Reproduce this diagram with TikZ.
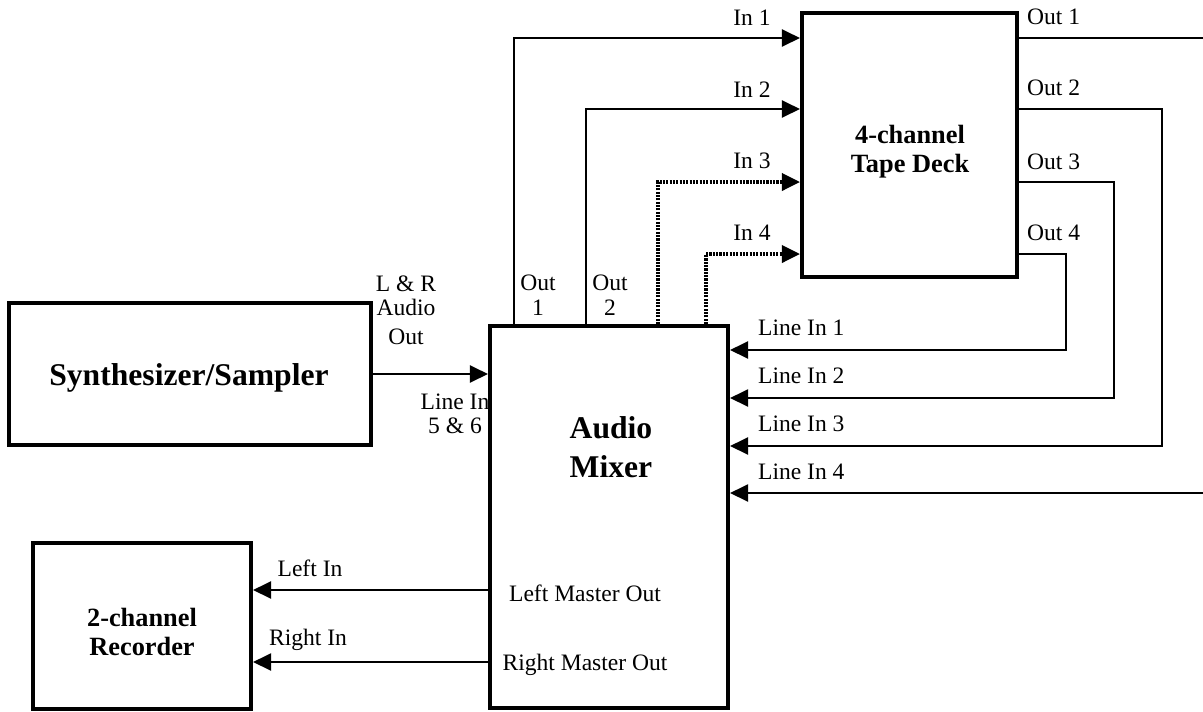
\documentclass[tikz,border=0pt]{standalone}
\usepackage{fontspec}
\setmainfont{Liberation Serif}
\usepackage{tikz}
\usetikzlibrary{arrows.meta}

\begin{document}
\begin{tikzpicture}[
    unit/.style={draw, line width=2.3pt, fill=white, inner sep=0pt},
    title/.style={align=center, font=\fontsize{15}{16.5}\selectfont\bfseries},
    wire/.style={line width=1.15pt},
    feed/.style={wire, -{Triangle[length=0.36cm, width=0.34cm]}},
    dotwire/.style={feed, line width=2pt, dash pattern=on 1.2pt off 0.7pt},
    tag/.style={font=\fontsize{13.4}{14}\selectfont, align=center, inner sep=1pt}
  ]
        \useasboundingbox (0,0) rectangle (24.06,-14.22);
        % units
        \node[unit, minimum width=7.24cm, minimum height=2.84cm] (synth) at (3.8,-7.48) {};
        \node[title, font=\fontsize{18}{20}\selectfont\bfseries] (synthtitle) at (3.78,-7.56) {Synthesizer/Sampler};
        \node[tag] (linein56) at (9.1,-8.28) {Line In\\5 \& 6};
        \node[unit, minimum width=4.76cm, minimum height=7.64cm] (mixer) at (12.18,-10.34) {};
        \node[unit, minimum width=4.3cm, minimum height=5.28cm] (tape) at (18.19,-2.9) {};
        \node[unit, minimum width=4.36cm, minimum height=3.32cm] (recorder) at (2.84,-12.52) {};
        \node[title, font=\fontsize{18}{22}\selectfont\bfseries] (mixertitle) at (12.22,-8.94) {Audio\\Mixer};
        \node[title] (tapetitle) at (18.2,-3.04) {4-channel\\Tape Deck};
        \node[title] (recordertitle) at (2.84,-12.64) {2-channel\\Recorder};

        % synth into mixer
        \draw[feed] (synth.east) -- (synth.east -| mixer.west);
        \node[tag] (synthout) at (8.12,-6.2) {L \& R\\Audio\\[2pt]Out};

        % mixer sends to tape deck
        \draw[feed] (mixer.north -| 10.28,0) |- (tape.west |- 0,-0.76);
        \draw[feed] (mixer.north -| 11.72,0) |- (tape.west |- 0,-2.18);
        \draw[dotwire] (mixer.north -| 13.16,0) |- (tape.west |- 0,-3.64);
        \draw[dotwire] (mixer.north -| 14.12,0) |- (tape.west |- 0,-5.08);
        \node[tag] (mixout1) at (10.76,-5.9) {Out\\1};
        \node[tag] (mixout2) at (12.2,-5.9) {Out\\2};
        \node[tag] (tapein1) at (15.04,-0.36) {In 1};
        \node[tag] (tapein2) at (15.04,-1.8) {In 2};
        \node[tag] (tapein3) at (15.04,-3.22) {In 3};
        \node[tag] (tapein4) at (15.04,-4.66) {In 4};

        % tape deck returns
        \coordinate (edge1) at (24.06,-0.76);
        \coordinate (edge4) at (24.06,-9.86);
        \draw[wire] (tape.east |- edge1) -- (edge1);
        \draw[feed] (tape.east |- 0,-2.18) -| (23.24,-8.92) -- (mixer.east |- 0,-8.92);
        \draw[feed] (tape.east |- 0,-3.64) -| (22.28,-7.96) -- (mixer.east |- 0,-7.96);
        \draw[feed] (tape.east |- 0,-5.08) -| (21.32,-7.0) -- (mixer.east |- 0,-7.0);
        \draw[feed] (edge4) -- (mixer.east |- edge4);
        \node[tag, anchor=west] (tapeout1) at (20.5,-0.34) {Out 1};
        \node[tag, anchor=west] (tapeout2) at (20.5,-1.76) {Out 2};
        \node[tag, anchor=west] (tapeout3) at (20.5,-3.24) {Out 3};
        \node[tag, anchor=west] (tapeout4) at (20.5,-4.66) {Out 4};
        \node[tag, anchor=west] (linein1) at (15.12,-6.56) {Line In 1};
        \node[tag, anchor=west] (linein2) at (15.12,-7.52) {Line In 2};
        \node[tag, anchor=west] (linein3) at (15.12,-8.48) {Line In 3};
        \node[tag, anchor=west] (linein4) at (15.12,-9.44) {Line In 4};

        % master outs to recorder
        \draw[feed] (mixer.west |- 0,-11.8) -- (recorder.east |- 0,-11.8);
        \draw[feed] (mixer.west |- 0,-13.24) -- (recorder.east |- 0,-13.24);
        \node[tag] (leftin) at (6.2,-11.36) {Left In};
        \node[tag] (rightin) at (6.16,-12.8) {Right In};
        \node[tag] (leftout) at (11.7,-11.86) {Left Master Out};
        \node[tag] (rightout) at (11.7,-13.3) {Right Master Out};
      \end{tikzpicture}
\end{document}
